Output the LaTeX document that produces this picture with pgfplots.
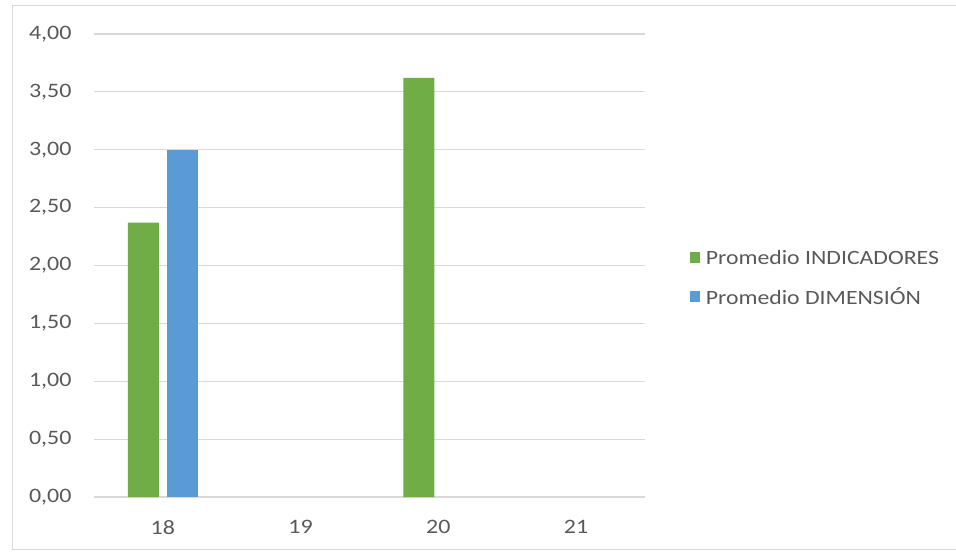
\documentclass[border=0pt]{standalone}
\usepackage{pgfplots}
\pgfplotsset{compat=1.18}
\usepackage{fontspec}
\setmainfont{Carlito}[FakeStretch=1.17]
\definecolor{indgreen}{HTML}{70AD47}
\definecolor{dimblue}{HTML}{5B9BD5}
\definecolor{txtgray}{HTML}{595959}
\definecolor{gridgray}{HTML}{D9D9D9}
\definecolor{framegray}{HTML}{D9D9D9}
\begin{document}
\begin{tikzpicture}
\path[use as bounding box] (0pt,0pt) rectangle (956pt,552pt);
\draw[framegray, line width=1pt] (12pt,2.5pt) rectangle (958pt,546pt);
\begin{axis}[
  at={(94pt,55pt)}, anchor=south west,
  scale only axis, width=551pt, height=463pt,
  ybar=8pt, bar width=31pt,
  xmin=17.5, xmax=21.5, ymin=0, ymax=4,
  xtick={18,19,20,21},
  ytick={0,0.5,...,4},
  axis line style={draw=none},
  major tick length=0pt,
  ymajorgrids, grid style={gridgray, line width=1.2pt},
  font=\fontsize{20.5}{24}\selectfont,
  tick label style={text=txtgray},
  /pgf/number format/assume math mode=true,
  yticklabel style={/pgf/number format/.cd, fixed, fixed zerofill, precision=2, use comma, /tikz/.cd, xshift=-19pt},
  xticklabel style={yshift=-20pt},
  legend style={at={(1.081,0.473)}, anchor=west, draw=none, fill=none,
    inner sep=0pt, row sep=18pt, text=txtgray,
    font=\fontsize{20.3}{24}\selectfont,
    nodes={inner xsep=6pt}},
  legend cell align=left,
  legend image code/.code={\fill[#1] (0pt,-5.5pt) rectangle (10pt,5.5pt);},
]
\addplot[fill=indgreen, draw=none] coordinates {(18,2.37) (20,3.62)};
\addplot[fill=dimblue, draw=none] coordinates {(18,3.00)};
\legend{Promedio INDICADORES, Promedio DIMENSIÓN}
\end{axis}
\end{tikzpicture}
\end{document}
